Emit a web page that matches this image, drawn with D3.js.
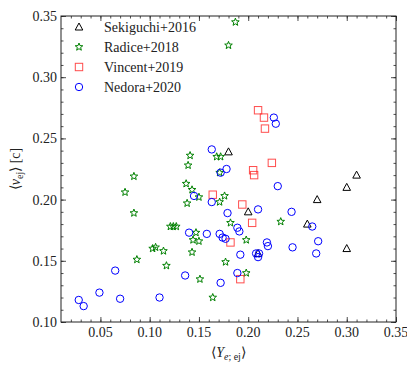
<html>
<head>
<script src="https://d3js.org/d3.v7.min.js"></script>
<style>
  body { margin: 0; background: #fff; }
  svg { display: block; font-family: "Liberation Serif", serif; }
</style>
</head>
<body>
<svg id="chart" width="407" height="373"></svg>
<script>
// data: [Ye, v_ej]
var sekiguchi = [
  [0.180, 0.239], [0.310, 0.220], [0.300, 0.210], [0.270, 0.200],
  [0.200, 0.190], [0.260, 0.180], [0.300, 0.160], [0.210, 0.156]
];
var radice = [
  [0.187, 0.345], [0.180, 0.326], [0.141, 0.236], [0.139, 0.228],
  [0.168, 0.235], [0.172, 0.235], [0.171, 0.222], [0.084, 0.219],
  [0.075, 0.206], [0.084, 0.189], [0.137, 0.213], [0.143, 0.208],
  [0.138, 0.197], [0.150, 0.202], [0.176, 0.203], [0.171, 0.198],
  [0.121, 0.178], [0.124, 0.178], [0.127, 0.178], [0.147, 0.173],
  [0.144, 0.167], [0.150, 0.166], [0.182, 0.181], [0.198, 0.167],
  [0.233, 0.182], [0.103, 0.160], [0.106, 0.161], [0.114, 0.158],
  [0.143, 0.157], [0.087, 0.151], [0.117, 0.146], [0.177, 0.149],
  [0.151, 0.135], [0.198, 0.140], [0.164, 0.120]
];
var vincent = [
  [0.210, 0.273], [0.216, 0.267], [0.217, 0.258], [0.224, 0.230],
  [0.205, 0.224], [0.206, 0.220], [0.164, 0.204], [0.194, 0.196],
  [0.204, 0.181], [0.182, 0.165], [0.192, 0.135]
];
var nedora = [
  [0.028, 0.118], [0.033, 0.113], [0.049, 0.124], [0.065, 0.142],
  [0.070, 0.119], [0.110, 0.120], [0.136, 0.138], [0.140, 0.173],
  [0.145, 0.203], [0.158, 0.172], [0.163, 0.198], [0.163, 0.241],
  [0.178, 0.225], [0.172, 0.222], [0.226, 0.267], [0.228, 0.262],
  [0.230, 0.211], [0.179, 0.189], [0.210, 0.192], [0.244, 0.190],
  [0.189, 0.177], [0.191, 0.174], [0.171, 0.172], [0.174, 0.169],
  [0.177, 0.168], [0.265, 0.178], [0.271, 0.166], [0.219, 0.165],
  [0.220, 0.162], [0.245, 0.161], [0.192, 0.155], [0.208, 0.156],
  [0.211, 0.156], [0.210, 0.153], [0.269, 0.156], [0.189, 0.140],
  [0.172, 0.132]
];
var xTicks = [0.05, 0.10, 0.15, 0.20, 0.25, 0.30, 0.35];
var yTicks = [0.10, 0.15, 0.20, 0.25, 0.30, 0.35];
var legendNames = ["Sekiguchi+2016", "Radice+2018", "Vincent+2019", "Nedora+2020"];

(function () {
var mLeft = 61, mRight = 396, mTop = 16, mBottom = 322;
var svg = d3.select("#chart");
var x = d3.scaleLinear().domain([0.01, 0.35]).range([mLeft, mRight]);
var y = d3.scaleLinear().domain([0.10, 0.35]).range([mBottom, mTop]);

var minorX = d3.range(2, 36).map(d => d / 100);
var minorY = d3.range(10, 36).map(d => d / 100);
var axisCol = "#222";

// ticks pointing inward on all four sides
function ticks(axisFn, t, len) {
  return axisFn.tickValues(t).tickSize(len).tickFormat("");
}
function place(tx, ty, ax) {
  svg.append("g").attr("transform", "translate(" + tx + "," + ty + ")").call(ax);
}
place(0, mBottom, ticks(d3.axisTop(x), minorX, 2.5));
place(0, mBottom, ticks(d3.axisTop(x), xTicks, 5));
place(0, mTop, ticks(d3.axisBottom(x), minorX, 2.5));
place(0, mTop, ticks(d3.axisBottom(x), xTicks, 5));
place(mLeft, 0, ticks(d3.axisRight(y), minorY, 2.5));
place(mLeft, 0, ticks(d3.axisRight(y), yTicks, 5));
place(mRight, 0, ticks(d3.axisLeft(y), minorY, 2.5));
place(mRight, 0, ticks(d3.axisLeft(y), yTicks, 5));
svg.selectAll(".domain").remove();
svg.selectAll(".tick line").attr("stroke", axisCol).attr("stroke-width", 0.8);

svg.append("rect")
  .attr("x", mLeft).attr("y", mTop)
  .attr("width", mRight - mLeft).attr("height", mBottom - mTop)
  .attr("fill", "none").attr("stroke", axisCol).attr("stroke-width", 1);

// tick labels
svg.append("g").selectAll("text").data(xTicks).enter().append("text")
  .attr("x", d => x(d)).attr("y", mBottom + 15)
  .attr("text-anchor", "middle").attr("font-size", 14).attr("fill", "#222")
  .text(d => d.toFixed(2));
svg.append("g").selectAll("text").data(yTicks).enter().append("text")
  .attr("x", mLeft - 4).attr("y", d => y(d) + 5)
  .attr("text-anchor", "end").attr("font-size", 14).attr("fill", "#222")
  .text(d => d.toFixed(2));

// axis titles
var xl = svg.append("text").attr("x", (mLeft + mRight) / 2).attr("y", 357)
  .attr("text-anchor", "middle").attr("font-size", 14).attr("fill", "#222");
xl.append("tspan").text("\u27E8");
xl.append("tspan").attr("font-style", "italic").text("Y");
xl.append("tspan").attr("font-size", 10).attr("dy", 3).attr("font-style", "italic").text("e");
xl.append("tspan").attr("font-size", 10).text("; ej");
xl.append("tspan").attr("dy", -3).text("\u27E9");

var yl = svg.append("text").attr("transform", "translate(20," + ((mTop + mBottom) / 2) + ") rotate(-90)")
  .attr("text-anchor", "middle").attr("font-size", 14).attr("fill", "#222");
yl.append("tspan").text("\u27E8");
yl.append("tspan").attr("font-style", "italic").text("v");
yl.append("tspan").attr("font-size", 10).attr("dy", 3).text("ej");
yl.append("tspan").attr("dy", -3).text("\u27E9 [c]");

// marker shapes
function triPath(cx, cy) {
  return "M" + cx + "," + (cy - 4) + "L" + (cx + 3.8) + "," + (cy + 3) + "L" + (cx - 3.8) + "," + (cy + 3) + "Z";
}
function starPath(cx, cy) {
  var pts = [];
  for (var i = 0; i < 10; i++) {
    var r = i % 2 ? 1.7 : 4;
    var a = -Math.PI / 2 + i * Math.PI / 5;
    pts.push((cx + r * Math.cos(a)).toFixed(2) + "," + (cy + r * Math.sin(a)).toFixed(2));
  }
  return "M" + pts.join("L") + "Z";
}
var styles = [
  { data: sekiguchi, color: "#000", draw: (g, cx, cy) => g.append("path").attr("d", triPath(cx, cy)) },
  { data: radice, color: "#008000", draw: (g, cx, cy) => g.append("path").attr("d", starPath(cx, cy)) },
  { data: vincent, color: "#ff2020", draw: (g, cx, cy) => g.append("rect").attr("x", cx - 3.7).attr("y", cy - 3.7).attr("width", 7.4).attr("height", 7.4) },
  { data: nedora, color: "#0000ff", draw: (g, cx, cy) => g.append("circle").attr("cx", cx).attr("cy", cy).attr("r", 3.7) }
];

styles.forEach(function (s, k) {
  var g = svg.append("g").attr("fill", "none").attr("stroke", s.color)
    .attr("stroke-width", 1).attr("stroke-opacity", k == 2 ? 0.8 : 1);
  s.data.forEach(d => s.draw(g, x(d[0]), y(d[1])));
});

// legend
styles.forEach(function (s, k) {
  var cy = 27 + k * 20;
  var g = svg.append("g").attr("fill", "none").attr("stroke", s.color)
    .attr("stroke-width", 1).attr("stroke-opacity", k == 2 ? 0.8 : 1);
  s.draw(g, 79, cy);
  svg.append("text").attr("x", 104).attr("y", cy + 5)
    .attr("font-size", 14).attr("fill", "#222").text(legendNames[k]);
});
})();
</script>
</body>
</html>
